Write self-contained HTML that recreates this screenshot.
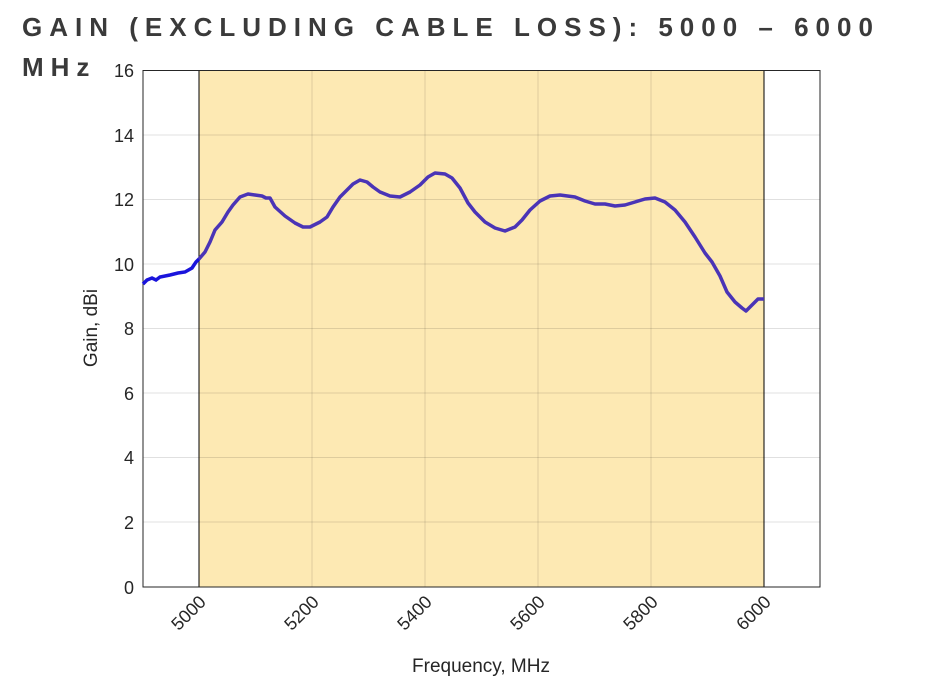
<!DOCTYPE html>
<html><head><meta charset="utf-8"><style>
body{margin:0;background:#fff;width:933px;height:700px;overflow:hidden;font-family:"Liberation Sans",sans-serif}
.t{position:absolute;left:22px;font-weight:bold;font-size:26px;letter-spacing:7px;color:#3a3a3a}
</style></head><body>
<div class="t" style="top:12px">GAIN (EXCLUDING CABLE LOSS): 5000 – 6000</div>
<div class="t" style="top:52px">MHz</div>
<svg width="933" height="700" style="position:absolute;left:0;top:0" font-family="Liberation Sans, sans-serif">
<rect x="199" y="70.5" width="565" height="516.5" fill="#fde9b3"/>
<g stroke="#000" stroke-opacity="0.12" stroke-width="1">
<line x1="143" x2="820" y1="135" y2="135"/><line x1="143" x2="820" y1="199.5" y2="199.5"/><line x1="143" x2="820" y1="264" y2="264"/><line x1="143" x2="820" y1="328.5" y2="328.5"/><line x1="143" x2="820" y1="393" y2="393"/><line x1="143" x2="820" y1="457.5" y2="457.5"/><line x1="143" x2="820" y1="522" y2="522"/>
<line x1="312" x2="312" y1="70" y2="587"/><line x1="425" x2="425" y1="70" y2="587"/><line x1="538" x2="538" y1="70" y2="587"/><line x1="651" x2="651" y1="70" y2="587"/>
</g>
<line x1="199" x2="199" y1="70" y2="587" stroke="#000"/>
<line x1="764" x2="764" y1="70" y2="587" stroke="#000"/>
<rect x="143" y="70.5" width="677" height="516.5" fill="none" stroke="#262626"/>
<polyline fill="none" stroke="#1a14dc" stroke-width="3.5" points="143,284 147,280 152,278 156,280 160,277 170,275 178,273 185,272 192,268 196,262 199,259"/>
<polyline fill="none" stroke="#4a34b6" stroke-width="3.5" stroke-linejoin="round" points="199,259 205,252 210,242 215,230 222,222 228,212 233,205 240,197 248,194 255,195 262,196 266,198 270,198 275,207 285,216 295,223 303,227 310,227 320,222 327,217 333,207 340,197 347,190 353,184 360,180 367,182 373,187 380,192 390,196 400,197 410,192 420,185 428,177 435,173 445,174 452,178 460,188 468,203 475,212 485,222 495,228 505,231 515,227 522,220 530,210 540,201 550,196 560,195 575,197 585,201 595,204 605,204 615,206 625,205 635,202 645,199 655,198 665,202 675,210 685,222 695,237 705,253 712,262 720,276 727,292 735,302 742,308 746,311 752,305 758,299 764,299"/>
<g font-size="18" fill="#262626" text-anchor="end">
<text x="134" y="77">16</text><text x="134" y="142">14</text><text x="134" y="206">12</text><text x="134" y="271">10</text><text x="134" y="335">8</text><text x="134" y="400">6</text><text x="134" y="464">4</text><text x="134" y="529">2</text><text x="134" y="594">0</text>
</g>
<g font-size="18" fill="#262626" text-anchor="end">
<text transform="translate(207,603) rotate(-45)">5000</text>
<text transform="translate(320,603) rotate(-45)">5200</text>
<text transform="translate(433,603) rotate(-45)">5400</text>
<text transform="translate(546,603) rotate(-45)">5600</text>
<text transform="translate(659,603) rotate(-45)">5800</text>
<text transform="translate(772,603) rotate(-45)">6000</text>
</g>
<text x="481" y="672" font-size="19" fill="#262626" text-anchor="middle">Frequency, MHz</text>
<text transform="translate(97,328) rotate(-90)" font-size="19" fill="#262626" text-anchor="middle">Gain, dBi</text>
</svg>
</body></html>
